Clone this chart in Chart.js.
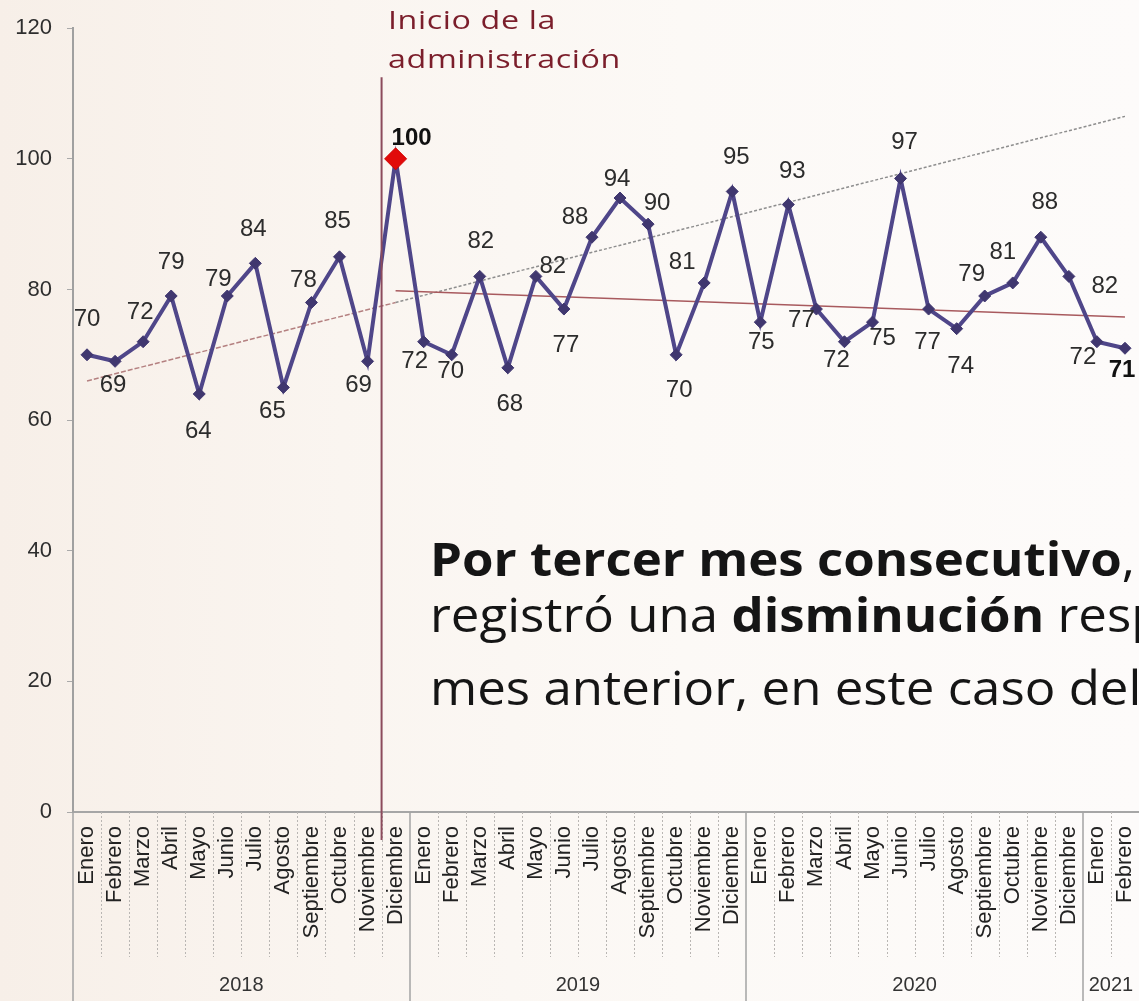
<!DOCTYPE html>
<html lang="es">
<head>
<meta charset="utf-8">
<title>Índice mensual 2018-2021</title>
<script src="https://cdn.jsdelivr.net/npm/chart.js@4.4.1/dist/chart.umd.min.js"></script>
<style>
html, body { margin: 0; padding: 0; }
body {
    width: 1139px; height: 1001px; overflow: hidden; position: relative;
    background: linear-gradient(90deg, #f7efe8 0%, #faf5f0 30%, #fcf9f6 60%, #fdfbfa 100%);
    font-family: "Open Sans", sans-serif;
}
#chart { position: absolute; left: 0; top: 0; }
.nota {
    position: absolute; left: 388px; top: 0px;
    color: #7b1e2b; font-size: 26px; line-height: 39px; letter-spacing: 0.5px; font-weight: 400;
    transform: scaleX(1.24); transform-origin: left top;
}
.texto {
    position: absolute; left: 430px; white-space: nowrap; color: #151515;
    font-size: 47px; line-height: 47px;
    transform: scaleX(1.085); transform-origin: left top;
}
.l1 { top: 535px; font-weight: 700; }
.l2 { top: 591px; }
.l3 { top: 664px; }
.texto b { font-weight: 700; }
.texto span { font-weight: 400; }
</style>
</head>
<body>
<canvas id="chart" width="1139" height="1001"></canvas>
<div class="nota">Inicio de la<br>administración</div>
<div class="texto l1">Por tercer mes consecutivo<span>, se</span></div>
<div class="texto l2">registró una <b>disminución</b> respecto al</div>
<div class="texto l3">mes anterior, en este caso del</div>

<script>
/*************** Datos ****************/

var meses = ['Enero','Febrero','Marzo','Abril','Mayo','Junio','Julio','Agosto','Septiembre','Octubre','Noviembre','Diciembre',
             'Enero','Febrero','Marzo','Abril','Mayo','Junio','Julio','Agosto','Septiembre','Octubre','Noviembre','Diciembre',
             'Enero','Febrero','Marzo','Abril','Mayo','Junio','Julio','Agosto','Septiembre','Octubre','Noviembre','Diciembre',
             'Enero','Febrero'];
var anios = ['2018', '2019', '2020', '2021'];
var inicioAnio = [0, 12, 24, 36];   // index of each year's first month

var indice = [70, 69, 72, 79, 64, 79, 84, 65, 78, 85, 69, 100,
              72, 70, 82, 68, 82, 77, 88, 94, 90, 70, 81, 95,
              75, 93, 77, 72, 75, 97, 77, 74, 79, 81, 88, 82,
              72, 71];

// trend lines, read at their end points
var tendenciaPrevia  = [[0, 66], [11, 78]];
var tendenciaGeneral = [[11, 78], [37, 106.5]];
var tendenciaAdmin   = [[11, 79.8], [37, 75.8]];

var inicioAdmin = 11;      // Diciembre 2018
var resaltados = [11, 37]; // bold labels

var yTicks = [0, 20, 40, 60, 80, 100, 120];

// where each value label sits around its point
var labelDx = [0, -2, -3, 0, -1, -9, -2, -11, -8, -2, -9, 16,
               -9, -1, 1, 2, 17, 2, -17, -3, 9, 3, -22, 4,
               1, 4, -15, -8, 10, 4, -1, 4, -13, -10, 4, 36,
               -14, -3];
var labelDy = [-35, 24, -29, -34, 37, -17, -34, 24, -22, -35, 24, -20,
               20, 17, -35, 37, -10, 36, -20, -19, -21, 36, -21, -34,
               20, -33, 11, 19, 16, -36, 33, 38, -22, -31, -35, 10,
               16, 22];

function serie(pares) {
    var arr = meses.map(function () { return null; });
    pares.forEach(function (p) { arr[p[0]] = p[1]; });
    return arr;
}

/*************** Plugins ****************/

var FONT = 'Liberation Sans, Arial, sans-serif';

var etiquetas = {
    id: 'etiquetas',
    afterDatasetsDraw: function (chart) {
        var ctx = chart.ctx;
        var meta = chart.getDatasetMeta(0);
        ctx.save();
        ctx.textAlign = 'center';
        ctx.textBaseline = 'middle';
        meta.data.forEach(function (pt, i) {
            var bold = resaltados.indexOf(i) >= 0;
            ctx.font = (bold ? 'bold ' : '') + '24px ' + FONT;
            ctx.fillStyle = bold ? '#111' : '#2c2c2c';
            ctx.fillText(String(indice[i]), pt.x + labelDx[i], pt.y + labelDy[i]);
        });
        ctx.restore();
    }
};

var ejes = {
    id: 'ejes',
    afterDraw: function (chart) {
        var ctx = chart.ctx, xs = chart.scales.x, ys = chart.scales.y;
        var area = chart.chartArea;
        var half = (xs.getPixelForValue(1) - xs.getPixelForValue(0)) / 2;
        var i, bx;
        ctx.save();
        // month separators under the axis
        ctx.strokeStyle = '#b9b6b3';
        ctx.lineWidth = 1;
        ctx.setLineDash([2, 2]);
        for (i = 1; i < meses.length; i++) {
            if (inicioAnio.indexOf(i) >= 0) continue;
            bx = Math.round(xs.getPixelForValue(i) - half) + 0.5;
            ctx.beginPath();
            ctx.moveTo(bx, area.bottom);
            ctx.lineTo(bx, area.bottom + 145);
            ctx.stroke();
        }
        // year separators
        ctx.setLineDash([]);
        ctx.strokeStyle = '#a3a3a3';
        ctx.lineWidth = 1.5;
        inicioAnio.forEach(function (k) {
            var yx = Math.round(xs.getPixelForValue(k) - half);
            ctx.beginPath();
            ctx.moveTo(yx, area.bottom);
            ctx.lineTo(yx, chart.height);
            ctx.stroke();
        });
        // year labels
        ctx.font = '20px ' + FONT;
        ctx.fillStyle = '#333';
        ctx.textAlign = 'center';
        ctx.textBaseline = 'middle';
        anios.forEach(function (a, k) {
            var x0 = xs.getPixelForValue(inicioAnio[k]) - half;
            var x1 = k + 1 < inicioAnio.length ? xs.getPixelForValue(inicioAnio[k + 1]) - half : area.right;
            ctx.fillText(a, (x0 + x1) / 2, chart.height - 16);
        });
        // start of administration
        var vx = (xs.getPixelForValue(inicioAdmin - 1) + xs.getPixelForValue(inicioAdmin)) / 2;
        ctx.strokeStyle = '#8c4b5c';
        ctx.lineWidth = 2;
        ctx.beginPath();
        ctx.moveTo(vx, ys.getPixelForValue(112.5));
        ctx.lineTo(vx, area.bottom + 28);
        ctx.stroke();
        ctx.restore();
    }
};

/*************** Chart ****************/

Chart.defaults.font.family = FONT;

var chart = new Chart(document.getElementById('chart'), {
    type: 'line',
    data: {
        labels: meses,
        datasets: [
            {
                data: indice,
                borderColor: '#4f4689',
                borderWidth: 4,
                pointStyle: 'rectRot',
                pointRadius: function (c) { return c.dataIndex === inicioAdmin ? 11 : 6; },
                pointBackgroundColor: function (c) { return c.dataIndex === inicioAdmin ? '#e10a0a' : '#40376f'; },
                pointBorderColor: function (c) { return c.dataIndex === inicioAdmin ? '#d00000' : '#40376f'; },
                pointBorderWidth: 1,
                tension: 0
            },
            {
                data: serie(tendenciaAdmin),
                borderColor: '#a85a5e',
                borderWidth: 1.5,
                pointRadius: 0,
                spanGaps: true
            },
            {
                data: serie(tendenciaGeneral),
                borderColor: '#8e8e8e',
                borderWidth: 1.5,
                borderDash: [3, 2],
                pointRadius: 0,
                spanGaps: true
            },
            {
                data: serie(tendenciaPrevia),
                borderColor: '#b48080',
                borderWidth: 1.5,
                borderDash: [5, 2],
                pointRadius: 0,
                spanGaps: true
            }
        ]
    },
    options: {
        responsive: false,
        devicePixelRatio: 1,
        animation: false,
        layout: { autoPadding: false, padding: { top: 22, right: 0, left: 0, bottom: 0 } },
        plugins: { legend: { display: false }, tooltip: { enabled: false } },
        scales: {
            x: {
                offset: true,
                grid: { display: false, drawTicks: false },
                border: { display: true, color: '#a6a6a6', width: 2 },
                ticks: {
                    autoSkip: false, maxRotation: 90, minRotation: 90,
                    padding: 14, color: '#222', font: { size: 22 }
                },
                afterFit: function (s) { s.height = 189; s.paddingLeft = 0; s.paddingRight = 0; }
            },
            y: {
                min: 0, max: 120,
                afterBuildTicks: function (s) { s.ticks = yTicks.map(function (v) { return { value: v }; }); },
                grid: { drawOnChartArea: false, drawTicks: true, tickLength: 6, color: '#aaa' },
                border: { display: true, color: '#a0a0a0', width: 2 },
                ticks: { padding: 15, color: '#2e2e2e', font: { size: 22 } },
                afterFit: function (s) { s.width = 73; }
            }
        }
    },
    plugins: [etiquetas, ejes]
});
</script>
</body>
</html>
